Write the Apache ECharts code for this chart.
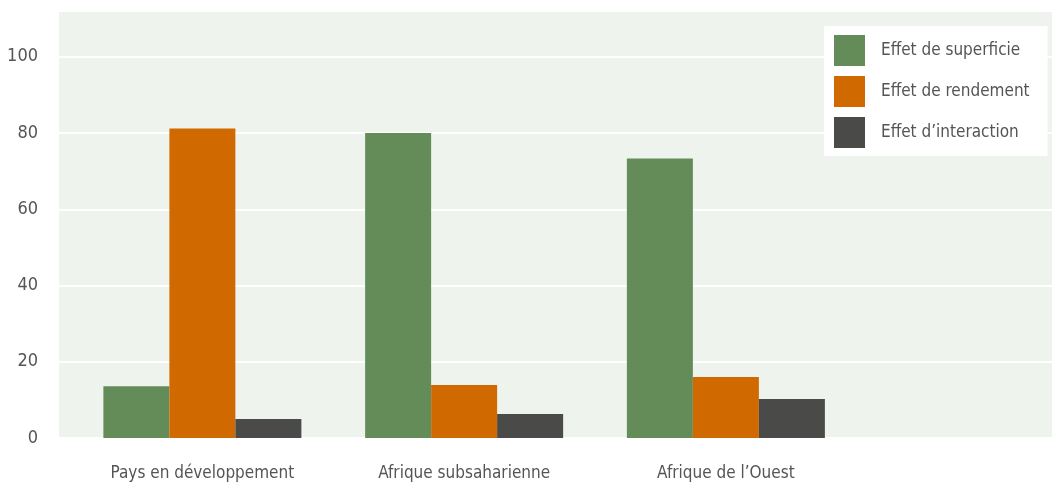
<!DOCTYPE html>
<html><head><meta charset="utf-8">
<script src="https://cdn.jsdelivr.net/npm/echarts@6/dist/echarts.min.js"></script>
<style>html,body{margin:0;padding:0;background:#fff}#c{width:1052px;height:485px}</style>
</head><body><div id="c"></div>
<script>
const categories = ['Pays en développement', 'Afrique subsaharienne', 'Afrique de l’Ouest', ''];
const seriesNames = ['Effet de superficie', 'Effet de rendement', 'Effet d’interaction'];
const superficie = [13.6, 80.0, 73.3];
const rendement = [81.2, 13.9, 16.0];
const interaction = [5.0, 6.3, 10.2];
const yTicks = [0, 20, 40, 60, 80, 100];

const FONT = "'Liberation Sans Narrow', 'DejaVu Sans Condensed', sans-serif";
const colors = ['#638c58', '#d06a00', '#4a4a48'];
const chart = echarts.init(document.getElementById('c'), null, {renderer: 'canvas'});
const values = [superficie, rendement, interaction];
chart.setOption({
  animation: false,
  color: colors,
  grid: [
    {left: 59, top: 11, right: 0, bottom: 47, show: true, backgroundColor: '#eef3ed', borderWidth: 0, outerBoundsMode: 'none'},
    {left: 71.5, top: 11, width: 1047, bottom: 47, outerBoundsMode: 'none', containLabel: false}
  ],
  legend: {
    orient: 'vertical', left: 824, top: 26,
    backgroundColor: '#ffffff',
    padding: [9, 18, 8, 10],
    itemWidth: 31, itemHeight: 31, itemGap: 10,
    icon: 'rect',
    textStyle: {fontFamily: FONT, fontSize: 17, color: '#555555', padding: [3, 0, 0, 11]},
    data: seriesNames
  },
  xAxis: [
    {type: 'value', gridIndex: 0, show: false, min: 0, max: 1},
    {type: 'category', gridIndex: 1, data: categories,
     axisLine: {show: false}, axisTick: {show: false},
     axisLabel: {fontFamily: FONT, fontSize: 17, color: '#555555', margin: 27}}
  ],
  yAxis: [
    {type: 'value', gridIndex: 0, min: 0, max: 112, interval: 20,
     axisLine: {show: false}, axisTick: {show: false},
     axisLabel: {fontFamily: FONT, fontSize: 18, color: '#555555', margin: 21,
       formatter: v => yTicks.includes(v) ? String(v) : ''},
     splitLine: {lineStyle: {color: '#ffffff', width: 2}}},
    {type: 'value', gridIndex: 1, min: 0, max: 112, show: false, splitLine: {show: false}}
  ],
  series: seriesNames.map((n, i) => ({
    name: n, type: 'bar', xAxisIndex: 1, yAxisIndex: 1,
    barWidth: 66, barGap: '0%',
    data: values[i]
  }))
});
</script></body></html>
